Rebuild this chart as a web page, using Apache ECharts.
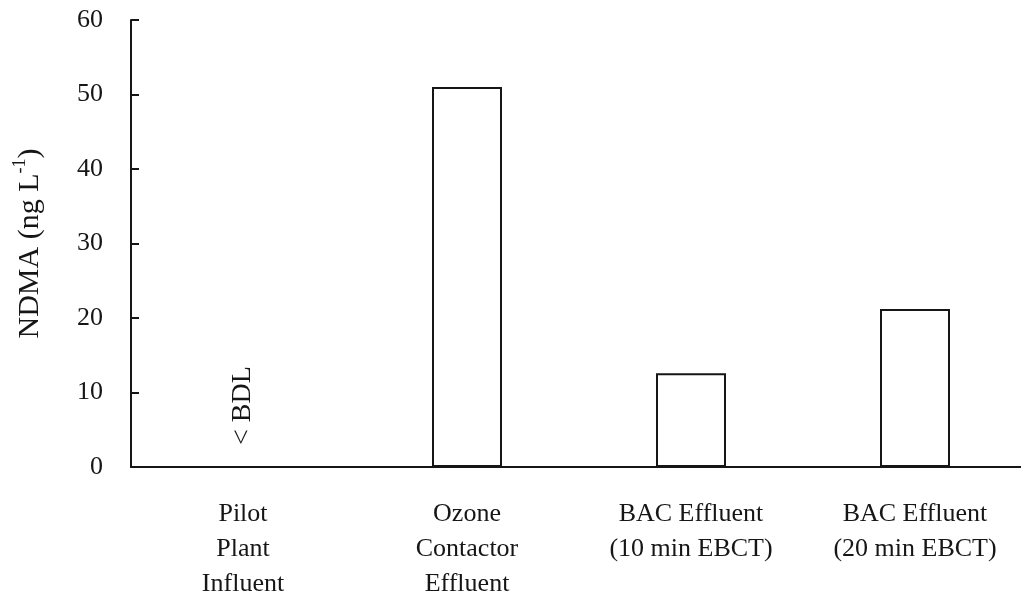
<!DOCTYPE html>
<html>
<head>
<meta charset="utf-8">
<script src="https://cdn.jsdelivr.net/npm/echarts@6/dist/echarts.min.js"></script>
<style>
  html, body { margin: 0; padding: 0; background: #fff; }
  #chart { width: 1021px; height: 598px; }
</style>
</head>
<body>
<div id="chart"></div>
<script>
// Sampling points along the treatment train
const categories = [
  'Pilot\nPlant\nInfluent',
  'Ozone\nContactor\nEffluent',
  'BAC Effluent\n(10 min EBCT)',
  'BAC Effluent\n(20 min EBCT)'
];
// NDMA concentration, ng/L (influent below detection limit)
const ndmaValues = [0, 51.0, 12.6, 21.2];
const belowDetection = [true, false, false, false];
const yTicks = { min: 0, max: 60, interval: 10 };

const FONT = '"Liberation Serif", "Times New Roman", serif';
const INK = '#161616';

const barData = ndmaValues.map((v, i) => belowDetection[i]
  ? {
      value: v,
      itemStyle: { borderWidth: 0 },
      label: {
        show: true,
        formatter: '< BDL',
        position: 'top',
        rotate: 90,
        align: 'left',
        verticalAlign: 'middle',
        distance: 22,
        fontFamily: FONT,
        fontSize: 28,
        color: INK
      }
    }
  : v);

const chart = echarts.init(document.getElementById('chart'), null, { renderer: 'canvas' });
chart.setOption({
  backgroundColor: '#fff',
  animation: false,
  grid: { left: 131, right: -6, top: 20, bottom: 131, containLabel: false, outerBoundsMode: 'none' },
  xAxis: {
    type: 'category',
    data: categories,
    axisLine: { lineStyle: { color: INK, width: 2 } },
    axisTick: { show: false },
    axisLabel: {
      interval: 0,
      margin: 30,
      fontFamily: FONT,
      fontSize: 26,
      lineHeight: 35,
      color: INK
    }
  },
  yAxis: {
    type: 'value',
    min: yTicks.min,
    max: yTicks.max,
    interval: yTicks.interval,
    splitLine: { show: false },
    axisLine: { show: true, lineStyle: { color: INK, width: 2 } },
    axisTick: { show: true, inside: true, length: 8, lineStyle: { color: INK, width: 2 } },
    axisLabel: { margin: 28, fontFamily: FONT, fontSize: 26, color: INK },
    name: '{m|NDMA (ng L}{s|-1}{m|)}',
    nameLocation: 'middle',
    nameGap: 86,
    nameTextStyle: {
      fontFamily: FONT,
      fontSize: 30,
      color: INK,
      rich: {
        m: { fontFamily: FONT, fontSize: 30, color: INK, lineHeight: 34, verticalAlign: 'bottom' },
        s: { fontFamily: FONT, fontSize: 18, color: INK, lineHeight: 34, verticalAlign: 'top' }
      }
    }
  },
  series: [{
    type: 'bar',
    data: barData,
    barWidth: 70,
    itemStyle: { color: '#fff', borderColor: INK, borderWidth: 2 }
  }]
});
</script>
</body>
</html>
